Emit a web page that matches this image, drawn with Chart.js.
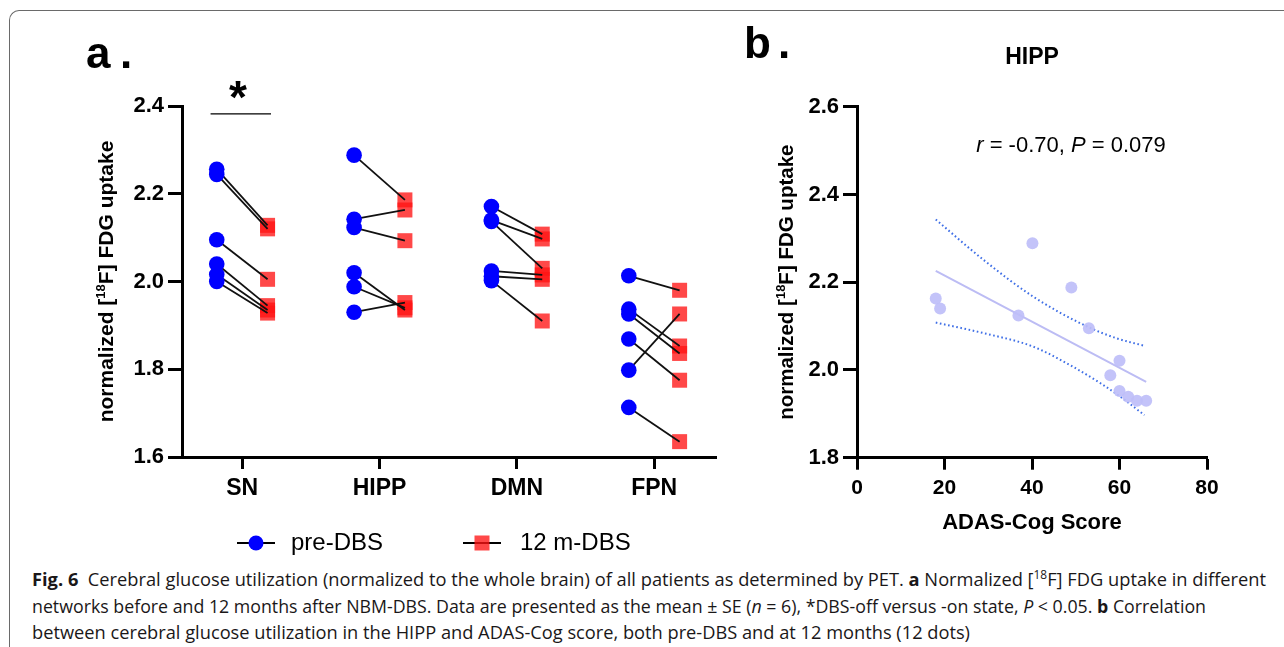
<!DOCTYPE html>
<html><head><meta charset="utf-8">
<script src="https://cdn.jsdelivr.net/npm/chart.js@4.4.1/dist/chart.umd.min.js"></script>
<style>
html,body{margin:0;padding:0;background:#fff;}
body{width:1284px;height:647px;position:relative;overflow:hidden;font-family:"Liberation Sans",Arial,sans-serif;}
#frame{position:absolute;left:9px;top:10px;width:1320px;height:700px;border-top:1.5px solid #6a6a6a;border-left:1.5px solid #6a6a6a;border-top-left-radius:10px;box-sizing:border-box;}
canvas{position:absolute;top:0;}
#ca{left:0;}
#cb{left:730px;}
.cap{position:absolute;left:32px;font-family:"Open Sans","Noto Sans",sans-serif;font-size:18.5px;line-height:20px;white-space:nowrap;transform-origin:0 50%;color:#1a1718;}
.cap b{font-weight:700;}
.cap sup{font-size:12px;line-height:0;}
</style>
</head><body>
<div id="frame"></div>
<canvas id="ca" width="740" height="560"></canvas>
<canvas id="cb" width="554" height="560"></canvas>
<div class="cap" data-w="1234" style="top:569px"><b>Fig. 6</b>&nbsp; Cerebral glucose utilization (normalized to the whole brain) of all patients as determined by PET. <b>a</b> Normalized [<sup>18</sup>F] FDG uptake in different</div>
<div class="cap" data-w="1174" style="top:596px">networks before and 12 months after NBM-DBS. Data are presented as the mean ± SE (<i>n</i> = 6), *DBS-off versus -on state, <i>P</i> &lt; 0.05. <b>b</b> Correlation</div>
<div class="cap" data-w="938" style="top:622px">between cerebral glucose utilization in the HIPP and ADAS-Cog score, both pre-DBS and at 12 months (12 dots)</div>
<script>
// ---------- data ----------
const categories = ['SN', 'HIPP', 'DMN', 'FPN'];
const preDBS = [
  [2.256, 2.244, 2.095, 2.040, 2.016, 2.000],
  [2.288, 2.142, 2.123, 2.020, 1.988, 1.930],
  [2.171, 2.140, 2.137, 2.024, 2.012, 2.002],
  [2.013, 1.937, 1.926, 1.869, 1.798, 1.713]
];
const post12 = [
  [2.128, 2.120, 2.005, 1.945, 1.935, 1.928],
  [2.186, 2.163, 2.093, 1.935, 1.940, 1.952],
  [2.108, 2.097, 2.030, 2.015, 2.005, 1.910],
  [1.980, 1.853, 1.836, 1.775, 1.926, 1.635]
];
const yTicksA = [1.6, 1.8, 2.0, 2.2, 2.4];
const legendLabels = ['pre-DBS', '12 m-DBS'];

const adasScore  = [18.0, 19.0, 36.9, 40.1, 49.0, 53.0, 60.0, 57.9, 60.0, 62.0, 64.0, 66.1];
const hippUptake = [2.163, 2.140, 2.124, 2.289, 2.188, 2.095, 2.021, 1.988, 1.952, 1.939, 1.930, 1.930];
const fitX = [18.0, 66.1];
const fitY = [2.226, 1.973];
const bandUpperX = [18.0, 28.9, 40.3, 52.6, 59.4, 65.7];
const bandUpperY = [2.343, 2.251, 2.167, 2.099, 2.072, 2.055];
const bandLowerX = [18.0, 28.9, 40.3, 49.4, 55.6, 60.2, 65.7];
const bandLowerY = [2.108, 2.084, 2.053, 2.007, 1.970, 1.939, 1.897];
const xTicksB = [0, 20, 40, 60, 80];
const yTicksB = [1.8, 2.0, 2.2, 2.4, 2.6];

// ---------- style ----------
const FF = '"Liberation Sans", Arial, sans-serif';
Chart.defaults.font.family = FF;
Chart.defaults.color = '#000';
const pairOffset = 0.185;
const BLUE = '#0000ff';
const RED = 'rgba(255,20,20,0.78)';

// ---------- panel a ----------
const prePts = [], postPts = [], pairSets = [];
categories.forEach((c, ci) => {
  preDBS[ci].forEach((v, i) => {
    const a = {x: ci + 1 - pairOffset, y: v};
    const b = {x: ci + 1 + pairOffset, y: post12[ci][i]};
    prePts.push(a); postPts.push(b);
    pairSets.push({data: [a, b], showLine: true, borderColor: '#111', borderWidth: 1.8,
      pointRadius: 0, fill: false});
  });
});

function drawRichText(ctx, parts, cx, cy) {
  let total = 0;
  parts.forEach(p => { ctx.font = p.font; p.w = ctx.measureText(p.t).width; total += p.w; });
  let x = cx - total / 2;
  ctx.textBaseline = 'middle';
  ctx.textAlign = 'left';
  parts.forEach(p => { ctx.font = p.font; ctx.fillText(p.t, x, cy + (p.dy || 0)); x += p.w; });
}

const panelAExtras = {
  id: 'panelAExtras',
  afterDraw(chart) {
    const ctx = chart.ctx, xs = chart.scales.x, ys = chart.scales.y, ca = chart.chartArea;
    ctx.save();
    ctx.fillStyle = '#000';
    ctx.font = 'bold 44px ' + FF;
    ctx.textBaseline = 'alphabetic';
    ctx.fillText('a', 86, 68);
    ctx.fillText('.', 120, 68);
    ctx.save();
    ctx.translate(107, (ca.top + ca.bottom) / 2);
    ctx.rotate(-Math.PI / 2);
    drawRichText(ctx, [
      {t: 'normalized [', font: 'bold 21px ' + FF},
      {t: '18', font: 'bold 13px ' + FF, dy: -6},
      {t: 'F] FDG uptake', font: 'bold 21px ' + FF}
    ], 0, 0);
    ctx.restore();
    const y0 = ys.getPixelForValue(2.382);
    ctx.strokeStyle = '#000'; ctx.lineWidth = 1.2;
    ctx.beginPath();
    ctx.moveTo(xs.getPixelForValue(0.77), y0);
    ctx.lineTo(xs.getPixelForValue(1.21), y0);
    ctx.stroke();
    ctx.font = 'bold 46px ' + FF;
    const m = ctx.measureText('*');
    const ax = xs.getPixelForValue(0.97);
    const ay = y0 - 24;
    ctx.textAlign = 'center'; ctx.textBaseline = 'alphabetic';
    ctx.fillText('*', ax, ay + (m.actualBoundingBoxAscent - m.actualBoundingBoxDescent) / 2);
    const ly = ca.bottom + 86;
    const items = [
      {x0: 237, x1: 275, style: 'circle', label: legendLabels[0], tx: 291},
      {x0: 463, x1: 501, style: 'rect', label: legendLabels[1], tx: 520}
    ];
    items.forEach(it => {
      ctx.strokeStyle = '#000'; ctx.lineWidth = 1.8;
      ctx.beginPath(); ctx.moveTo(it.x0, ly); ctx.lineTo(it.x1, ly); ctx.stroke();
      const cx = (it.x0 + it.x1) / 2;
      if (it.style === 'circle') {
        ctx.fillStyle = BLUE; ctx.beginPath(); ctx.arc(cx, ly, 7.5, 0, Math.PI * 2); ctx.fill();
      } else {
        ctx.fillStyle = RED; ctx.fillRect(cx - 7.5, ly - 7.5, 15, 15);
      }
      ctx.fillStyle = '#000';
      ctx.font = '24px ' + FF; ctx.textAlign = 'left'; ctx.textBaseline = 'middle';
      ctx.fillText(it.label, it.tx, ly);
    });
    ctx.restore();
  }
};

new Chart(document.getElementById('ca'), {
  type: 'scatter',
  data: {
    datasets: [
      {data: prePts, pointStyle: 'circle', pointRadius: 7.8, backgroundColor: BLUE, borderWidth: 0},
      ...pairSets,
      {data: postPts, pointStyle: 'rect', pointRadius: 10.6, backgroundColor: RED, borderWidth: 0}
    ]
  },
  options: {
    responsive: false, animation: false, events: [],
    layout: {padding: {left: 0, top: 106, right: 24, bottom: 43}},
    plugins: {legend: {display: false}, tooltip: {enabled: false}},
    scales: {
      x: {
        type: 'linear', min: 0.562, max: 4.45,
        afterBuildTicks: s => { s.ticks = categories.map((c, i) => ({value: i + 1})); },
        ticks: {callback: (v, i) => categories[i], font: {size: 23, weight: 'bold'}, color: '#000',
          padding: 6, maxRotation: 0, autoSkip: false},
        grid: {drawOnChartArea: false, tickLength: 12, tickWidth: 3, tickColor: '#000'},
        border: {color: '#000', width: 3},
        afterFit: s => { s.height = 60; }
      },
      y: {
        min: 1.6, max: 2.4,
        afterBuildTicks: s => { s.ticks = yTicksA.map(v => ({value: v})); },
        ticks: {callback: (v, i) => yTicksA[i].toFixed(1), font: {size: 22, weight: 'bold'}, color: '#000', padding: 4},
        grid: {drawOnChartArea: false, tickLength: 14, tickWidth: 3, tickColor: '#000'},
        border: {color: '#000', width: 3},
        afterFit: s => { s.width = 182; }
      }
    }
  },
  plugins: [panelAExtras]
});

// ---------- panel b ----------
const scatterPts = adasScore.map((x, i) => ({x, y: hippUptake[i]}));
const fitPts = fitX.map((x, i) => ({x, y: fitY[i]}));
const upPts = bandUpperX.map((x, i) => ({x, y: bandUpperY[i]}));
const loPts = bandLowerX.map((x, i) => ({x, y: bandLowerY[i]}));

const panelBExtras = {
  id: 'panelBExtras',
  afterDraw(chart) {
    const ctx = chart.ctx, ca = chart.chartArea;
    const cx = (ca.left + ca.right) / 2;
    ctx.save();
    ctx.fillStyle = '#000';
    ctx.font = 'bold 44px ' + FF; ctx.textBaseline = 'alphabetic'; ctx.textAlign = 'left';
    ctx.fillText('b', 744 - 730, 58);
    ctx.fillText('.', 778 - 730, 58);
    ctx.font = 'bold 23px ' + FF; ctx.textAlign = 'center'; ctx.textBaseline = 'middle';
    ctx.fillText('HIPP', cx, 58);
    ctx.font = 'bold 22px ' + FF;
    ctx.fillText('ADAS-Cog Score', cx, 523);
    drawRichText(ctx, [
      {t: 'r', font: 'italic 22px ' + FF},
      {t: ' = -0.70, ', font: '22px ' + FF},
      {t: 'P', font: 'italic 22px ' + FF},
      {t: ' = 0.079', font: '22px ' + FF}
    ], 1071 - 730, 146);
    ctx.save();
    ctx.translate(787 - 730, (ca.top + ca.bottom) / 2);
    ctx.rotate(-Math.PI / 2);
    drawRichText(ctx, [
      {t: 'normalized [', font: 'bold 20.5px ' + FF},
      {t: '18', font: 'bold 13px ' + FF, dy: -6},
      {t: 'F] FDG uptake', font: 'bold 20.5px ' + FF}
    ], 0, 0);
    ctx.restore();
    ctx.restore();
  }
};

new Chart(document.getElementById('cb'), {
  type: 'scatter',
  data: {
    datasets: [
      {data: scatterPts, pointStyle: 'circle', pointRadius: 6, backgroundColor: 'rgba(190,190,248,0.92)', borderWidth: 0},
      {data: fitPts, showLine: true, borderColor: '#bcbcf4', borderWidth: 2, pointRadius: 0},
      {data: upPts, showLine: true, borderColor: '#3f6fe6', borderWidth: 2, borderDash: [1.6, 2.6], pointRadius: 0, tension: 0.4, cubicInterpolationMode: 'monotone'},
      {data: loPts, showLine: true, borderColor: '#3f6fe6', borderWidth: 2, borderDash: [1.6, 2.6], pointRadius: 0, tension: 0.4, cubicInterpolationMode: 'monotone'}
    ]
  },
  options: {
    responsive: false, animation: false, events: [],
    layout: {padding: {left: 0, top: 106.7, right: 77, bottom: 42.3}},
    plugins: {legend: {display: false}, tooltip: {enabled: false}},
    scales: {
      x: {
        type: 'linear', min: 0, max: 80,
        afterBuildTicks: s => { s.ticks = xTicksB.map(v => ({value: v})); },
        ticks: {callback: (v, i) => String(xTicksB[i]), font: {size: 21, weight: 'bold'}, color: '#000', padding: 6, maxRotation: 0, autoSkip: false},
        grid: {drawOnChartArea: false, tickLength: 12, tickWidth: 3, tickColor: '#000'},
        border: {color: '#000', width: 3},
        afterFit: s => { s.height = 60; }
      },
      y: {
        min: 1.8, max: 2.6,
        afterBuildTicks: s => { s.ticks = yTicksB.map(v => ({value: v})); },
        ticks: {callback: (v, i) => yTicksB[i].toFixed(1), font: {size: 22, weight: 'bold'}, color: '#000', padding: 4},
        grid: {drawOnChartArea: false, tickLength: 14, tickWidth: 3, tickColor: '#000'},
        border: {color: '#000', width: 3},
        afterFit: s => { s.width = 127; }
      }
    }
  },
  plugins: [panelBExtras]
});

// ---------- caption fit ----------
document.querySelectorAll('.cap').forEach(el => {
  const w = el.getBoundingClientRect().width;
  el.style.transform = 'scaleX(' + (Number(el.dataset.w) / w) + ')';
});
</script>
</body></html>
